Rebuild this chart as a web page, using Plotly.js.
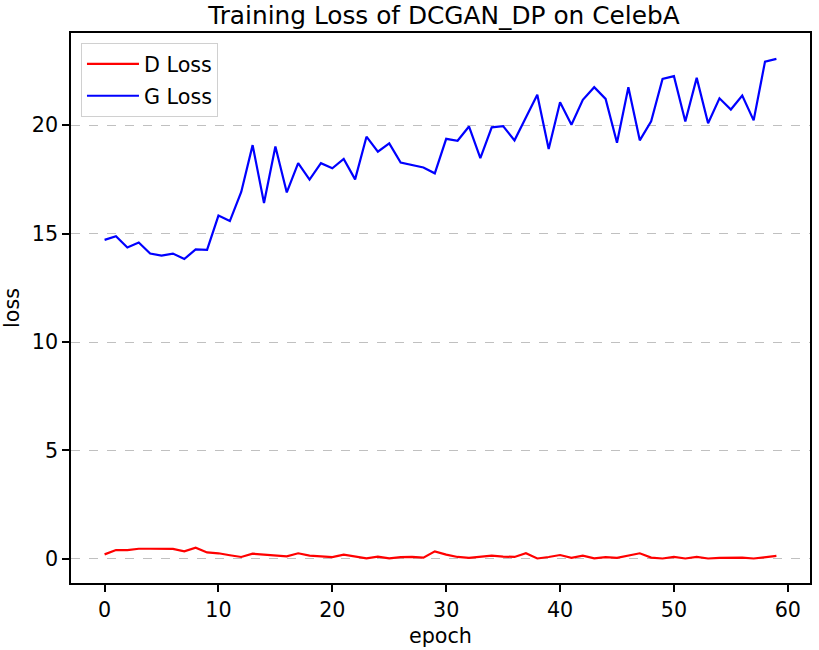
<!DOCTYPE html>
<html>
<head>
<meta charset="utf-8">
<script src="https://cdn.plot.ly/plotly-3.0.1.min.js"></script>
<style>
  body { margin: 0; padding: 0; background: #fff; }
  #plot { width: 819px; height: 650px; }
</style>
</head>
<body>
<div id="plot"></div>
<script>
// epochs 0..59
var epochs = [];
for (let i = 0; i < 60; i++) { epochs.push(i); }

// discriminator loss
var dLoss = [
    0.21, 0.41, 0.41, 0.47, 0.47, 0.46, 0.46, 0.35, 0.52, 0.30,
    0.26, 0.17, 0.09, 0.24, 0.20, 0.14, 0.12, 0.26, 0.15, 0.12,
    0.08, 0.20, 0.11, 0.03, 0.11, 0.03, 0.08, 0.09, 0.06, 0.35,
    0.20, 0.09, 0.05, 0.09, 0.15, 0.11, 0.09, 0.26, 0.02, 0.09,
    0.18, 0.05, 0.15, 0.03, 0.08, 0.05, 0.15, 0.26, 0.06, 0.02,
    0.09, 0.02, 0.09, 0.02, 0.05, 0.05, 0.06, 0.02, 0.09, 0.14
];

// generator loss
var gLoss = [
    14.71, 14.88, 14.36, 14.59, 14.08, 13.99, 14.08, 13.83, 14.27, 14.25,
    15.83, 15.58, 16.92, 19.08, 16.41, 19.02, 16.90, 18.25, 17.49, 18.25,
    18.01, 18.44, 17.50, 19.47, 18.78, 19.16, 18.28, 18.15, 18.05, 17.78,
    19.37, 19.28, 19.94, 18.48, 19.90, 19.96, 19.30, 20.35, 21.40, 18.90,
    21.06, 20.02, 21.17, 21.75, 21.21, 19.19, 21.75, 19.30, 20.18, 22.13,
    22.26, 20.17, 22.18, 20.09, 21.24, 20.72, 21.37, 20.22, 22.93, 23.06
];

var xTicks = [0, 10, 20, 30, 40, 50, 60];
var yTicks = [0, 5, 10, 15, 20];

var font = "DejaVu Sans, sans-serif";

let dTrace = {
    x: epochs,
    y: dLoss,
    name: "D Loss",
    type: "scatter",
    mode: "lines",
    legendgroup: "d",
    line: { color: "#ff0000", width: 2.2 }
};

let gTrace = {
    x: epochs,
    y: gLoss,
    name: "G Loss",
    type: "scatter",
    mode: "lines",
    legendgroup: "g",
    line: { color: "#0000ff", width: 2.2 }
};

let layout = {
    width: 819,
    height: 650,
    paper_bgcolor: "#fff",
    plot_bgcolor: "#fff",
    font: { family: font, size: 20.7, color: "#000" },
    title: {
        text: "Training Loss of DCGAN_DP on CelebA",
        font: { family: font, size: 24.8, color: "#000" },
        x: 0.542, xanchor: "center",
        y: 0.977, yanchor: "middle"
    },
    margin: { l: 71, r: 9, t: 33, b: 67, pad: 0 },
    showlegend: true,
    legend: {
        x: 0.0135, y: 0.982,
        xanchor: "left", yanchor: "top",
        bgcolor: "rgba(255,255,255,0.8)",
        bordercolor: "#d0d0d0",
        borderwidth: 1,
        traceorder: "grouped",
        tracegroupgap: 2,
        itemwidth: 52,
        font: { family: font, size: 20.7, color: "#000" }
    },
    xaxis: {
        range: [-2.95, 61.95],
        tickvals: xTicks,
        ticks: "outside",
        ticklen: 7,
        tickwidth: 1.6,
        tickcolor: "#000",
        showgrid: false,
        zeroline: false,
        showline: true,
        linecolor: "#000",
        linewidth: 1.6,
        mirror: true,
        tickfont: { family: font, size: 20.7, color: "#000" },
        title: { text: "epoch", font: { family: font, size: 20.7, color: "#000" }, standoff: 8 }
    },
    yaxis: {
        range: [-1.11, 24.25],
        tickvals: yTicks,
        ticks: "outside",
        ticklen: 7,
        tickwidth: 1.6,
        tickcolor: "#000",
        showgrid: true,
        gridcolor: "#c0c0c0",
        gridwidth: 1.3,
        griddash: "dash",
        zeroline: false,
        showline: true,
        linecolor: "#000",
        linewidth: 1.6,
        mirror: true,
        tickfont: { family: font, size: 20.7, color: "#000" },
        title: { text: "loss", font: { family: font, size: 20.7, color: "#000" }, standoff: 8 }
    }
};

Plotly.newPlot("plot", [dTrace, gTrace], layout, { displayModeBar: false });
</script>
</body>
</html>
